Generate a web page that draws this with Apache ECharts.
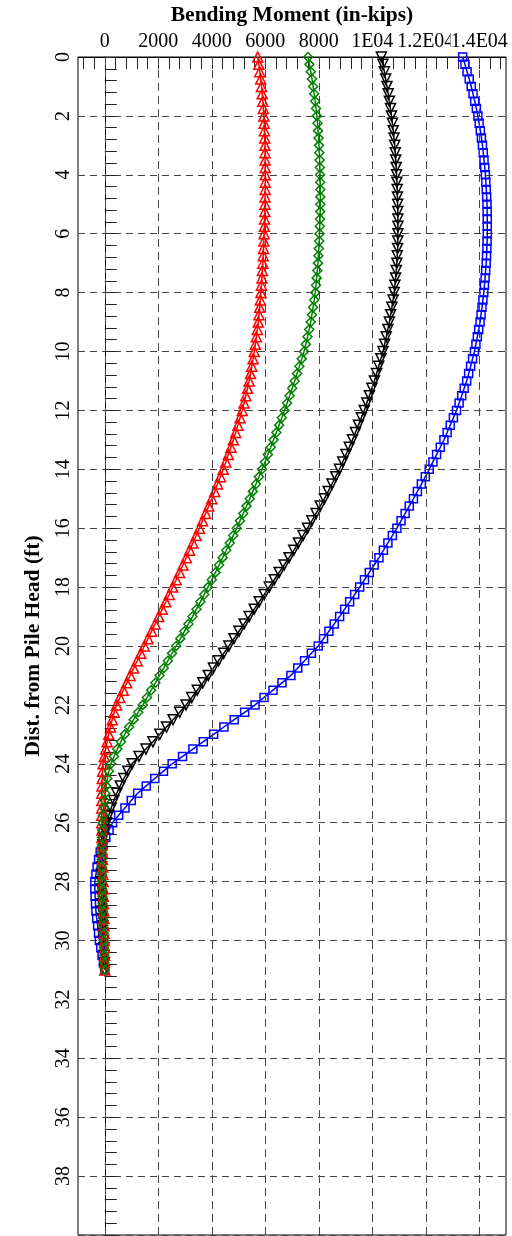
<!DOCTYPE html>
<html>
<head>
<meta charset="utf-8">
<script src="https://cdn.jsdelivr.net/npm/echarts@6/dist/echarts.min.js"></script>
<style>
html,body{margin:0;padding:0;background:#fff;}
#chart{width:512px;height:1236px;}
</style>
</head>
<body>
<div id="chart"></div>
<script>
// Depth below pile head (ft) of each plotted node
const depthFt = [
0,0.25,0.5,0.75,1,1.25,1.5,1.75,2,2.25,2.5,2.75,3,3.25,3.5,3.75,4,4.25,4.5,4.75,5,5.25,5.5,5.75,6,6.25,6.5,6.75,7,7.25,7.5,7.75,
8,8.25,8.5,8.75,9,9.25,9.5,9.75,10,10.25,10.5,10.75,11,11.25,11.5,11.75,12,12.25,12.5,12.75,13,13.25,13.5,13.75,14,14.25,14.5,14.75,15,15.25,15.5,15.75,
16,16.25,16.5,16.75,17,17.25,17.5,17.75,18,18.25,18.5,18.75,19,19.25,19.5,19.75,20,20.25,20.5,20.75,21,21.25,21.5,21.75,22,22.25,22.5,22.75,23,23.25,23.5,23.75,
24,24.25,24.5,24.75,25,25.25,25.5,25.75,26,26.25,26.5,26.75,27,27.25,27.5,27.75,28,28.25,28.5,28.75,29,29.25,29.5,29.75,30,30.25,30.5,30.75,31];

// Bending moment (in-kips) at each node, one array per load case
const momentRed = [
5720,5760,5795,5830,5860,5885,5910,5930,5950,5960,5970,5980,5990,5993,5996,5998,6000,6000,5997,5994,5990,5983,5976,5968,5960,5948,5936,5923,5910,5893,5876,5858,
5840,5816,5792,5766,5740,5705,5668,5630,5590,5545,5498,5450,5400,5338,5273,5207,5140,5060,4978,4895,4810,4717,4622,4527,4430,4324,4217,4109,4000,3886,3771,3656,
3540,3419,3296,3173,3050,2924,2797,2669,2540,2411,2281,2151,2020,1886,1751,1616,1480,1347,1214,1082,950,822,694,567,440,355,280,212,150,90,35,-15,
-60,-80,-95,-105,-110,-112,-113,-112,-110,-106,-101,-96,-90,-83,-75,-68,-60,-54,-47,-41,-35,-30,-25,-20,-15,-11,-7,-4,0];

const momentGreen = [
7600,7652,7702,7748,7790,7828,7864,7898,7930,7953,7973,7992,8010,8022,8032,8042,8050,8054,8057,8059,8060,8055,8048,8040,8030,8017,8003,7987,7970,7947,7922,7897,
7870,7830,7788,7745,7700,7643,7580,7516,7450,7365,7277,7189,7100,7007,6912,6816,6720,6620,6518,6415,6310,6204,6097,5989,5880,5767,5653,5537,5420,5300,5178,5055,
4930,4802,4673,4542,4410,4275,4140,4001,3860,3718,3574,3428,3280,3129,2977,2824,2670,2515,2360,2205,2050,1893,1735,1578,1420,1250,1080,912,750,605,470,345,
230,155,95,52,20,-8,-35,-58,-80,-92,-102,-107,-110,-110,-108,-104,-100,-93,-85,-78,-70,-60,-50,-40,-30,-22,-15,-7,0];

const momentBlack = [
10340,10397,10452,10502,10550,10596,10640,10681,10720,10753,10784,10813,10840,10860,10878,10895,10910,10921,10932,10941,10950,10955,10958,10960,10960,10956,10948,10935,10920,10898,10873,10847,
10820,10778,10734,10688,10640,10583,10524,10463,10400,10322,10243,10162,10080,9987,9893,9797,9700,9592,9483,9372,9260,9140,9018,8895,8770,8633,8494,8353,8210,8056,7900,7741,
7580,7411,7240,7066,6890,6706,6521,6336,6150,5963,5775,5588,5400,5210,5020,4830,4640,4447,4255,4062,3870,3666,3460,3252,3040,2800,2555,2309,2060,1800,1540,1280,
1020,860,715,580,450,340,240,150,70,10,-40,-70,-90,-105,-117,-125,-130,-125,-116,-108,-100,-87,-73,-59,-45,-33,-22,-11,0];

const momentBlue = [
13380,13465,13545,13625,13700,13768,13830,13892,13950,13996,14040,14082,14120,14150,14178,14205,14230,14247,14262,14277,14290,14295,14299,14300,14300,14294,14285,14273,14260,14240,14218,14195,
14170,14137,14103,14067,14030,13980,13928,13875,13820,13750,13677,13604,13530,13437,13343,13247,13150,13034,12916,12799,12680,12543,12405,12268,12130,11983,11836,11688,11540,11385,11230,11075,
10920,10752,10585,10417,10250,10070,9890,9710,9530,9343,9155,8968,8780,8580,8380,8180,7980,7725,7470,7215,6960,6625,6290,5955,5620,5230,4840,4455,4070,3683,3295,2908,
2520,2195,1870,1550,1230,990,755,520,290,160,40,-70,-170,-230,-285,-330,-370,-370,-360,-345,-330,-300,-265,-232,-200,-150,-100,-50,0];

// Top axis labels (the last, blank entry only keeps 1.4E04 from being treated as the edge label)
const xTickValues = [0,2000,4000,6000,8000,10000,12000,14000,15000];
const xTickLabels = ['0','2000','4000','6000','8000','1E04','1.2E04','1.4E04',''];
const xGridValues = [0,2000,4000,6000,8000,10000,12000,14000];
const xMinorTicks = [-800,-400,0,400,800,1200,1600,2000,2400,2800,3200,3600,4000,4400,4800,5200,5600,6000,6400,6800,7200,7600,8000,8400,8800,9200,9600,10000,10400,10800,11200,11600,12000,12400,12800,13200,13600,14000,14400,14800];

const FONT = 'Liberation Serif';
function pairs(vals){ return vals.map((v,i)=>[v, depthFt[i]]); }

const chart = echarts.init(document.getElementById('chart'), null, {renderer:'canvas'});
function mk(name, vals, color, symbol, size, rotate){
  return {
    name, type:'line', data:pairs(vals), symbol, symbolSize:size, symbolRotate:rotate||0,
    showAllSymbol:true, animation:false,
    lineStyle:{color, width:1.5},
    itemStyle:{color:'rgba(0,0,0,0)', borderColor:color, borderWidth:1.5},
    emphasis:{disabled:true}
  };
}
const gridMarks = {
  type:'line', data:[], silent:true, animation:false,
  markLine:{silent:true, symbol:'none', label:{show:false}, animation:false,
    lineStyle:{color:'#444', type:[8,5], width:1},
    data: xGridValues.map(v=>({xAxis:v}))}
};
chart.setOption({
  backgroundColor:'#fff',
  animation:false,
  grid:{left:78, top:57, right:6, bottom:1, containLabel:false, outerBoundsMode:'none',
    show:true, borderColor:'#000', borderWidth:1, backgroundColor:'transparent'},
  xAxis:{
    type:'value', position:'top', min:-1000, max:15000,
    name:'Bending Moment (in-kips)', nameLocation:'middle', nameGap:31,
    nameTextStyle:{fontFamily:FONT, fontWeight:'bold', fontSize:21.5, color:'#000'},
    axisLine:{show:true, lineStyle:{color:'#000', width:1}},
    axisTick:{show:true, inside:true, length:12, customValues:xMinorTicks, lineStyle:{color:'#222'}},
    axisLabel:{customValues:xTickValues, hideOverlap:false,
      formatter:(v)=>{const i=xTickValues.indexOf(v); return i<0?'':xTickLabels[i];},
      fontFamily:FONT, fontSize:20, color:'#000', margin:5, backgroundColor:'#fff'},
    splitLine:{show:false}
  },
  yAxis:{
    type:'value', inverse:true, min:0, max:40, interval:2,
    name:'Dist. from Pile Head (ft)', nameLocation:'middle', nameGap:34, nameRotate:90,
    nameTextStyle:{fontFamily:FONT, fontWeight:'bold', fontSize:21.5, color:'#000'},
    axisLine:{show:true, lineStyle:{color:'#000', width:1}},
    axisTick:{show:true, inside:true, length:12, lineStyle:{color:'#222'}},
    minorTick:{show:true, splitNumber:5, length:12, lineStyle:{color:'#222'}},
    axisLabel:{rotate:90, fontFamily:FONT, fontSize:20, color:'#000', margin:4, showMaxLabel:false},
    splitLine:{show:true, lineStyle:{color:'#444', type:[7,5], width:1}}
  },
  series:[
    gridMarks,
    mk('Blue', momentBlue, '#0000ff', 'rect', 8, 0),
    mk('Black', momentBlack, '#000000', 'triangle', 10, 180),
    mk('Red', momentRed, '#ff0000', 'triangle', 10, 0),
    mk('Green', momentGreen, '#008000', 'diamond', 9, 0)
  ]
});
</script>
</body>
</html>
